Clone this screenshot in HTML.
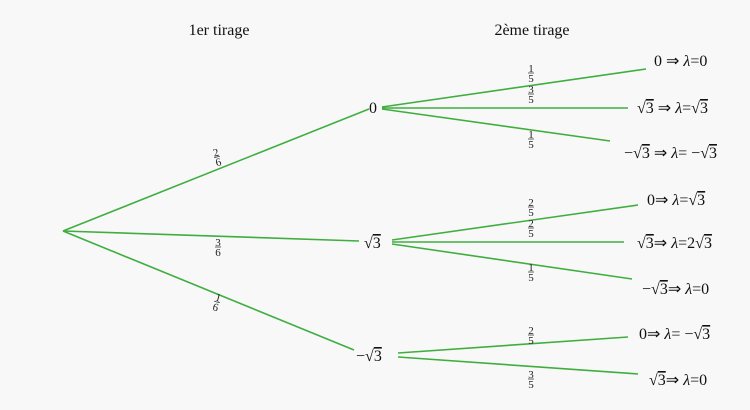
<!DOCTYPE html>
<html><head><meta charset="utf-8"><style>
html,body{margin:0;padding:0;background:#f8f8f8;}
svg{display:block;font-family:"Liberation Serif",serif;}
.t{font-size:16px;fill:#111;}
.f{font-size:11px;fill:#222;text-anchor:middle;}
.o{text-decoration:overline;}
line.g{stroke:#3fae3f;stroke-width:1.6;}
line.fl{stroke:#222;stroke-width:0.7;}
</style></head><body>
<svg width="750" height="410" viewBox="0 0 750 410">
<rect width="750" height="410" fill="#f8f8f8"/>
<text class="t" x="219" y="35" text-anchor="middle">1er tirage</text>
<text class="t" x="532" y="35" text-anchor="middle">2ème tirage</text>

<line class="g" x1="63" y1="231" x2="369" y2="109"/>
<line class="g" x1="63" y1="231" x2="359" y2="241"/>
<line class="g" x1="63" y1="231" x2="354" y2="350"/>

<line class="g" x1="382" y1="107" x2="646" y2="69"/>
<line class="g" x1="382" y1="108" x2="628" y2="108"/>
<line class="g" x1="382" y1="109" x2="610" y2="141"/>
<line class="g" x1="392" y1="240" x2="638" y2="205"/>
<line class="g" x1="392" y1="242" x2="624" y2="242"/>
<line class="g" x1="392" y1="244" x2="632" y2="279"/>
<line class="g" x1="398" y1="353" x2="628" y2="337"/>
<line class="g" x1="398" y1="357" x2="638" y2="374"/>

<text class="t" x="369" y="113">0</text>
<text class="t" x="364" y="248">√<tspan class="o">3</tspan></text>
<text class="t" x="356" y="361">−√<tspan class="o">3</tspan></text>

<g transform="translate(217,157) rotate(-15)"><text class="f" y="-1">2</text><line class="fl" x1="-3" y1="0" x2="3" y2="0"/><text class="f" y="9">6</text></g>
<g transform="translate(218,247)"><text class="f" y="-1">3</text><line class="fl" x1="-3" y1="0" x2="3" y2="0"/><text class="f" y="9">6</text></g>
<g transform="translate(217,302) rotate(15)"><text class="f" y="-1">1</text><line class="fl" x1="-3" y1="0" x2="3" y2="0"/><text class="f" y="9">6</text></g>

<g transform="translate(531,73)"><text class="f" y="-1">1</text><line class="fl" x1="-3" y1="0" x2="3" y2="0"/><text class="f" y="9">5</text></g>
<g transform="translate(531,94)"><text class="f" y="-1">3</text><line class="fl" x1="-3" y1="0" x2="3" y2="0"/><text class="f" y="9">5</text></g>
<g transform="translate(531,139)"><text class="f" y="-1">1</text><line class="fl" x1="-3" y1="0" x2="3" y2="0"/><text class="f" y="9">5</text></g>

<g transform="translate(531,207)"><text class="f" y="-1">2</text><line class="fl" x1="-3" y1="0" x2="3" y2="0"/><text class="f" y="9">5</text></g>
<g transform="translate(531,228)"><text class="f" y="-1">2</text><line class="fl" x1="-3" y1="0" x2="3" y2="0"/><text class="f" y="9">5</text></g>
<g transform="translate(531,272)"><text class="f" y="-1">1</text><line class="fl" x1="-3" y1="0" x2="3" y2="0"/><text class="f" y="9">5</text></g>

<g transform="translate(531,335)"><text class="f" y="-1">2</text><line class="fl" x1="-3" y1="0" x2="3" y2="0"/><text class="f" y="9">5</text></g>
<g transform="translate(531,379)"><text class="f" y="-1">3</text><line class="fl" x1="-3" y1="0" x2="3" y2="0"/><text class="f" y="9">5</text></g>

<text class="t" x="654" y="66">0 ⇒ <tspan font-style="italic">λ</tspan>=0</text>
<text class="t" x="637" y="113">√<tspan class="o">3</tspan> ⇒ <tspan font-style="italic">λ</tspan>=√<tspan class="o">3</tspan></text>
<text class="t" x="624" y="158">−√<tspan class="o">3</tspan> ⇒ <tspan font-style="italic">λ</tspan>= −√<tspan class="o">3</tspan></text>

<text class="t" x="647" y="205">0⇒ <tspan font-style="italic">λ</tspan>=√<tspan class="o">3</tspan></text>
<text class="t" x="637" y="248">√<tspan class="o">3</tspan>⇒ <tspan font-style="italic">λ</tspan>=2√<tspan class="o">3</tspan></text>
<text class="t" x="642" y="294">−√<tspan class="o">3</tspan>⇒ <tspan font-style="italic">λ</tspan>=0</text>

<text class="t" x="639" y="339">0⇒ <tspan font-style="italic">λ</tspan>= −√<tspan class="o">3</tspan></text>
<text class="t" x="649" y="385">√<tspan class="o">3</tspan>⇒ <tspan font-style="italic">λ</tspan>=0</text>
</svg>
</body></html>
